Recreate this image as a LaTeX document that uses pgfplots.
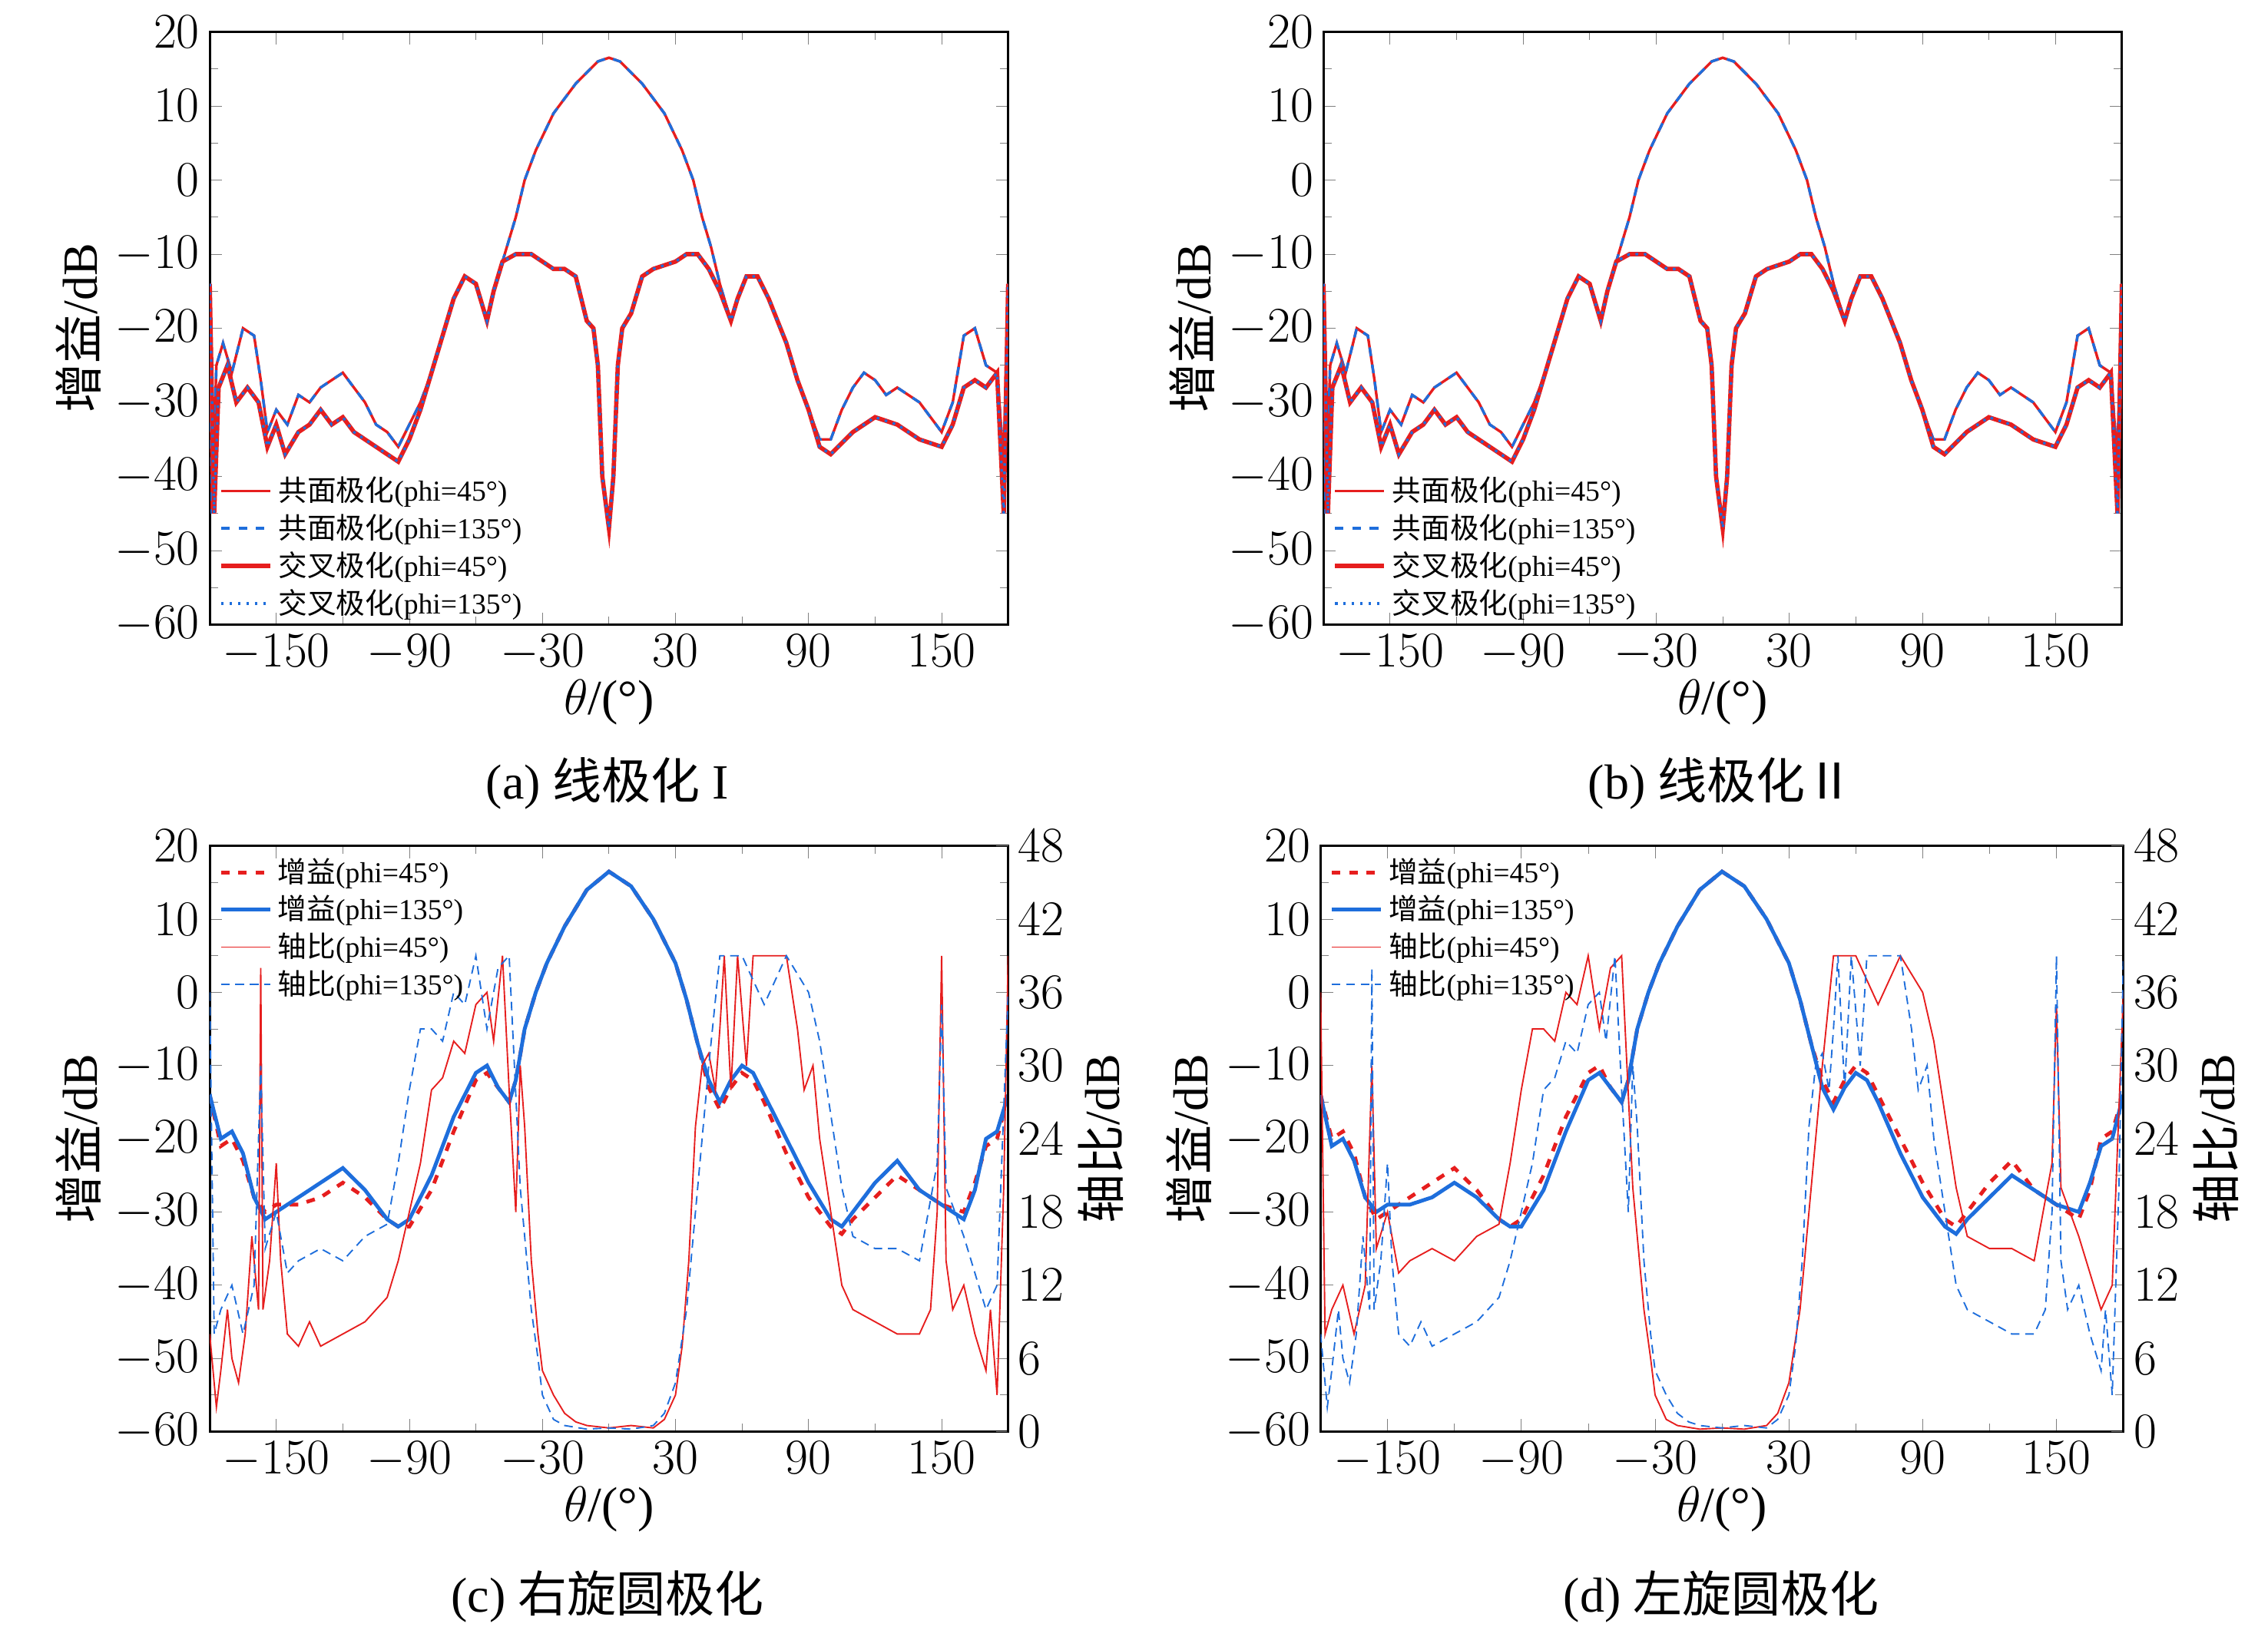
\documentclass[border=0pt]{standalone}
\usepackage{fontspec}
\setmainfont{Liberation Serif}
\newfontfamily\cjk{Noto Sans CJK SC}
\usepackage{pgfplots}
\usepackage{pgfplotstable}
\pgfplotsset{compat=1.18}
\pgfplotstableread{
t v
-180 -14
-179 -45
-177 -25
-174 -22
-170 -26
-165 -20
-160 -21
-157 -27
-154 -34
-150 -31
-145 -33
-140 -29
-135 -30
-130 -28
-120 -26
-115 -28
-110 -30
-105 -33
-100 -34
-95 -36
-90 -33
-85 -30
-80 -26
-75 -21
-70 -16
-65 -13
-60 -14
-57 -17
-55 -19
-52 -15
-48 -11
-46 -9
-42 -5
-38 0
-33 4
-25 9
-15 13
-5 16
0 16.5
5 16
15 13
25 9
33 4
38 0
42 -5
46 -9
50 -14
55 -19
58 -16
62 -13
67 -13
72 -16
80 -22
85 -27
90 -31
95 -35
100 -35
105 -31
110 -28
115 -26
120 -27
125 -29
130 -28
135 -29
140 -30
145 -32
150 -34
155 -30
160 -21
165 -20
170 -25
175 -26
178 -38
180 -14
}\co
\pgfplotstableread{
t v
-180 -14
-178 -45
-176 -28
-172 -25
-168 -30
-163 -28
-158 -30
-154 -36
-150 -33
-146 -37
-140 -34
-135 -33
-130 -31
-125 -33
-120 -32
-115 -34
-110 -35
-105 -36
-100 -37
-95 -38
-90 -35
-85 -31
-80 -26
-75 -21
-70 -16
-65 -13
-60 -14
-57 -17
-55 -19
-52 -15
-48 -11
-42 -10
-35 -10
-30 -11
-25 -12
-20 -12
-15 -13
-10 -19
-7 -20
-5 -25
-3 -40
0 -47
2 -40
4 -25
6 -20
10 -18
15 -13
20 -12
30 -11
35 -10
40 -10
45 -12
50 -15
55 -19
58 -16
62 -13
67 -13
72 -16
80 -22
85 -27
90 -31
95 -36
100 -37
110 -34
120 -32
130 -33
140 -35
150 -36
155 -33
160 -28
165 -27
170 -28
175 -26
178 -45
180 -14
}\cx
\pgfplotstableread{
t v
-180 -14
-175 -20
-170 -19
-165 -22
-160 -28
-155 -31
-150 -30
-140 -28
-130 -26
-120 -24
-110 -27
-100 -31
-95 -32
-90 -31
-80 -25
-70 -17
-60 -11
-55 -10
-50 -13
-45 -15
-42 -12
-38 -5
-33 0
-28 4
-20 9
-10 14
0 16.5
10 14.5
20 10
30 4
35 -1
40 -7
45 -12
50 -15
55 -12
60 -10
65 -11
70 -14
80 -20
90 -26
100 -31
105 -32
110 -30
120 -26
130 -23
140 -27
150 -29
160 -31
165 -27
170 -20
175 -19
180 -14
}\ga
\pgfplotstableread{
t v
-180 -14
-175 -21
-170 -20
-165 -23
-160 -28
-155 -30
-150 -29
-140 -29
-130 -28
-120 -26
-110 -28
-100 -31
-95 -32
-90 -32
-80 -27
-70 -19
-60 -12
-55 -11
-50 -13
-45 -15
-42 -12
-38 -5
-33 0
-28 4
-20 9
-10 14
0 16.5
10 14.5
20 10
30 4
35 -1
40 -7
45 -13
50 -16
55 -13
60 -11
65 -12
70 -15
80 -22
90 -28
100 -32
105 -33
110 -31
120 -28
130 -25
140 -27
150 -29
160 -30
165 -26
170 -21
175 -20
180 -14
}\gb
\pgfplotstableread{
t v
-180 8
-177 2
-175 5
-172 10
-170 6
-167 4
-164 8
-161 16
-158 10
-157 38
-156 10
-153 14
-150 22
-148 14
-145 8
-140 7
-135 9
-130 7
-120 8
-110 9
-100 11
-95 14
-90 18
-85 22
-80 28
-75 29
-70 32
-65 31
-60 35
-55 36
-52 32
-48 39
-45 28
-42 18
-40 30
-38 25
-35 14
-32 8
-30 5
-25 3
-20 1.5
-15 0.8
-10 0.5
0 0.3
10 0.5
15 0.4
20 0.3
25 1
30 3
33 7
36 14
39 25
42 30
45 31
48 28
50 33
52 39
55 28
58 39
62 30
65 39
70 39
75 39
80 39
85 33
88 28
92 30
95 24
100 18
105 12
110 10
120 9
130 8
140 8
145 10
148 18
150 39
152 14
155 10
160 12
165 8
170 5
172 10
175 3
178 20
180 39
}\ara
\pgfplotstableread{
t v
-180 36
-178 8
-175 10
-170 12
-165 8
-160 12
-157 30
-155 15
-150 18
-145 13
-140 14
-130 15
-120 14
-110 16
-100 17
-95 22
-90 28
-85 33
-80 33
-75 32
-70 36
-65 35
-60 39
-55 33
-50 38
-45 39
-40 20
-35 10
-32 6
-30 3
-25 1
-20 0.5
-10 0.2
0 0.3
10 0.2
20 0.5
25 1.5
30 4
35 10
40 20
45 30
50 39
60 39
70 35
80 39
90 36
95 32
100 26
105 20
110 16
120 15
130 15
140 14
148 22
150 35
152 20
160 16
165 13
170 10
175 12
180 36
}\arb
\definecolor{myred}{RGB}{230,30,30}
\definecolor{myblue}{RGB}{30,110,220}
\pgfplotsset{
 base/.style={scale only axis, width=276pt, xmin=-180, xmax=180, xtick={-150,-90,...,150},
  ymin=-60, ymax=20, ytick={-60,-50,...,20}, tick align=inside,
  minor x tick num=1, minor y tick num=1,
  tick label style={font=\fontsize{16}{18}\selectfont},
  label style={font=\fontsize{17}{19}\selectfont},
  xlabel={$\theta$/(°)}, ylabel={\cjk 增益\rmfamily/dB},
  ylabel style={yshift=-2pt}, xlabel style={yshift=4pt},
  axis line style={line width=0.8pt}, clip=true,
  legend style={draw=none, fill=none, font=\fontsize{10}{11}\selectfont, row sep=-1pt},
  legend cell align=left},
 rax/.style={scale only axis, width=276pt, xmin=-180, xmax=180, ymin=0, ymax=48,
  ytick={0,6,...,48}, axis y line*=right, axis x line=none, tick align=inside,
  tick label style={font=\fontsize{16}{18}\selectfont},
  label style={font=\fontsize{17}{19}\selectfont},
  ylabel={\cjk 轴比\rmfamily/dB}, ylabel style={yshift=2pt},
  axis line style={line width=0.8pt},
  legend style={draw=none, fill=none, font=\fontsize{10}{11}\selectfont, row sep=-1pt},
  legend cell align=left}
}
\begin{document}
\begin{tikzpicture}
\path[draw=none] (0,0) rectangle (784pt,-566pt);
% (a)
\begin{axis}[base, at={(72.5pt,-11pt)}, anchor=north west, height=205pt,
 legend style={at={(0.0,0.27)}, anchor=north west}]
\addplot[myred, line width=0.9pt] table {\co};
\addplot[myblue, dashed, line width=0.9pt] table {\co};
\addplot[myred, line width=1.5pt] table {\cx};
\addplot[myblue, dotted, line width=0.9pt] table {\cx};
\legend{{\cjk 共面极化}(phi=45°),{\cjk 共面极化}(phi=135°),{\cjk 交叉极化}(phi=45°),{\cjk 交叉极化}(phi=135°)}
\end{axis}
\node[font=\fontsize{17}{19}\selectfont] at (210pt,-271pt) {(a) {\cjk 线极化} I};
% (b)
\begin{axis}[base, at={(457.5pt,-11pt)}, anchor=north west, height=205pt,
 legend style={at={(0.0,0.27)}, anchor=north west}]
\addplot[myred, line width=0.9pt] table {\co};
\addplot[myblue, dashed, line width=0.9pt] table {\co};
\addplot[myred, line width=1.5pt] table {\cx};
\addplot[myblue, dotted, line width=0.9pt] table {\cx};
\legend{{\cjk 共面极化}(phi=45°),{\cjk 共面极化}(phi=135°),{\cjk 交叉极化}(phi=45°),{\cjk 交叉极化}(phi=135°)}
\end{axis}
\node[font=\fontsize{17}{19}\selectfont] at (595pt,-271pt) {(b) {\cjk 线极化Ⅱ}};
% (c)
\begin{axis}[base, at={(72.5pt,-292.5pt)}, anchor=north west, height=202.5pt]
\addplot[myred, dashed, line width=1.3pt] table {\gb};
\addplot[myblue, line width=1.3pt] table {\ga};
\end{axis}
\begin{axis}[rax, at={(72.5pt,-292.5pt)}, anchor=north west, height=202.5pt,
 legend style={at={(0.0,1.0)}, anchor=north west}]
\addlegendimage{myred, dashed, line width=1.3pt}
\addlegendimage{myblue, line width=1.3pt}
\addplot[myred, line width=0.5pt] table {\ara};
\addplot[myblue, densely dashed, line width=0.5pt] table {\arb};
\legend{{\cjk 增益}(phi=45°),{\cjk 增益}(phi=135°),{\cjk 轴比}(phi=45°),{\cjk 轴比}(phi=135°)}
\end{axis}
\node[font=\fontsize{17}{19}\selectfont] at (210pt,-552pt) {(c) {\cjk 右旋圆极化}};
% (d)
\begin{axis}[base, at={(456.5pt,-292.5pt)}, anchor=north west, height=202.5pt, width=277.5pt]
\addplot[myred, dashed, line width=1.3pt] table {\ga};
\addplot[myblue, line width=1.3pt] table {\gb};
\end{axis}
\begin{axis}[rax, at={(456.5pt,-292.5pt)}, anchor=north west, height=202.5pt, width=277.5pt,
 legend style={at={(0.0,1.0)}, anchor=north west}]
\addlegendimage{myred, dashed, line width=1.3pt}
\addlegendimage{myblue, line width=1.3pt}
\addplot[myred, line width=0.5pt] table {\arb};
\addplot[myblue, densely dashed, line width=0.5pt] table {\ara};
\legend{{\cjk 增益}(phi=45°),{\cjk 增益}(phi=135°),{\cjk 轴比}(phi=45°),{\cjk 轴比}(phi=135°)}
\end{axis}
\node[font=\fontsize{17}{19}\selectfont] at (595pt,-552pt) {(d) {\cjk 左旋圆极化}};
\end{tikzpicture}
\end{document}
